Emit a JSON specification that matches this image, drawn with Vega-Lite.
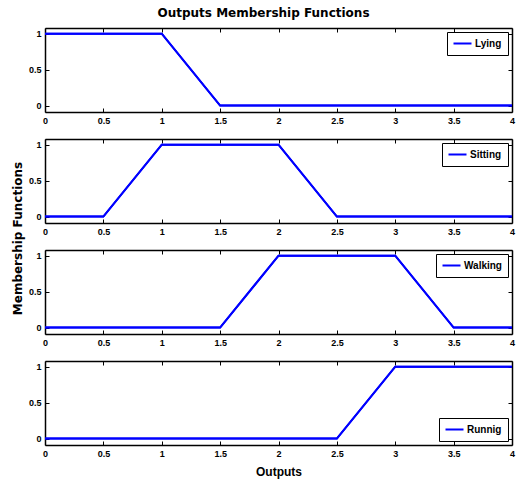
{
  "$schema": "https://vega.github.io/schema/vega-lite/v6.json",
  "padding": {"left": 11, "top": 6, "right": 2, "bottom": 5},
  "background": "white",
  "title": {"text": "Outputs Membership Functions", "font": "DejaVu Sans", "fontSize": 12, "fontWeight": "bold", "color": "black", "anchor": "middle", "offset": 8},
  "data": {"values": [
    {"name": "Lying", "x": 0, "y": 1},
    {"name": "Lying", "x": 1, "y": 1},
    {"name": "Lying", "x": 1.5, "y": 0},
    {"name": "Lying", "x": 4, "y": 0},
    {"name": "Sitting", "x": 0, "y": 0},
    {"name": "Sitting", "x": 0.5, "y": 0},
    {"name": "Sitting", "x": 1, "y": 1},
    {"name": "Sitting", "x": 2, "y": 1},
    {"name": "Sitting", "x": 2.5, "y": 0},
    {"name": "Sitting", "x": 4, "y": 0},
    {"name": "Walking", "x": 0, "y": 0},
    {"name": "Walking", "x": 1.5, "y": 0},
    {"name": "Walking", "x": 2, "y": 1},
    {"name": "Walking", "x": 3, "y": 1},
    {"name": "Walking", "x": 3.5, "y": 0},
    {"name": "Walking", "x": 4, "y": 0},
    {"name": "Runnig", "x": 0, "y": 0},
    {"name": "Runnig", "x": 2.5, "y": 0},
    {"name": "Runnig", "x": 3, "y": 1},
    {"name": "Runnig", "x": 4, "y": 1}
  ]},
  "spacing": 27,
  "bounds": "flush",
  "vconcat": [
    {
      "width": 467, "height": 84,
      "transform": [{"filter": "datum.name === 'Lying'"}],
      "layer": [
        {"mark": {"type": "line", "strokeWidth": 2},
         "encoding": {
           "x": {"field": "x", "type": "quantitative", "scale": {"domain": [0, 4], "nice": false}, "axis": {"orient": "bottom", "values": [0, 0.5, 1, 1.5, 2, 2.5, 3, 3.5, 4], "title": null}},
           "y": {"field": "y", "type": "quantitative", "scale": {"domain": [-0.09, 1.08], "nice": false}, "axis": {"orient": "left", "values": [0, 0.5, 1], "title": null}},
           "color": {"field": "name", "type": "nominal", "scale": {"range": ["#0000ff"]}, "legend": {"orient": "top-right"}}
         }},
        {"mark": {"type": "line", "strokeWidth": 2, "color": "#0000ff"},
         "encoding": {
           "x": {"field": "x", "type": "quantitative", "scale": {"domain": [0, 4], "nice": false}, "axis": {"orient": "top", "values": [0, 0.5, 1, 1.5, 2, 2.5, 3, 3.5, 4], "labels": false, "title": null}},
           "y": {"field": "y", "type": "quantitative", "scale": {"domain": [-0.09, 1.08], "nice": false}, "axis": {"orient": "right", "values": [0, 0.5, 1], "labels": false, "title": null}}
         }}
      ],
      "resolve": {"axis": {"x": "independent", "y": "independent"}}
    },
    {
      "width": 467, "height": 84,
      "transform": [{"filter": "datum.name === 'Sitting'"}],
      "layer": [
        {"mark": {"type": "line", "strokeWidth": 2},
         "encoding": {
           "x": {"field": "x", "type": "quantitative", "scale": {"domain": [0, 4], "nice": false}, "axis": {"orient": "bottom", "values": [0, 0.5, 1, 1.5, 2, 2.5, 3, 3.5, 4], "title": null}},
           "y": {"field": "y", "type": "quantitative", "scale": {"domain": [-0.09, 1.08], "nice": false}, "axis": {"orient": "left", "values": [0, 0.5, 1], "title": "Membership Functions", "titleFont": "DejaVu Sans", "titleX": -24, "titleY": 99, "titleAngle": -90, "titleAlign": "center", "titleBaseline": "alphabetic"}},
           "color": {"field": "name", "type": "nominal", "scale": {"range": ["#0000ff"]}, "legend": {"orient": "top-right"}}
         }},
        {"mark": {"type": "line", "strokeWidth": 2, "color": "#0000ff"},
         "encoding": {
           "x": {"field": "x", "type": "quantitative", "scale": {"domain": [0, 4], "nice": false}, "axis": {"orient": "top", "values": [0, 0.5, 1, 1.5, 2, 2.5, 3, 3.5, 4], "labels": false, "title": null}},
           "y": {"field": "y", "type": "quantitative", "scale": {"domain": [-0.09, 1.08], "nice": false}, "axis": {"orient": "right", "values": [0, 0.5, 1], "labels": false, "title": null}}
         }}
      ],
      "resolve": {"axis": {"x": "independent", "y": "independent"}}
    },
    {
      "width": 467, "height": 84,
      "transform": [{"filter": "datum.name === 'Walking'"}],
      "layer": [
        {"mark": {"type": "line", "strokeWidth": 2},
         "encoding": {
           "x": {"field": "x", "type": "quantitative", "scale": {"domain": [0, 4], "nice": false}, "axis": {"orient": "bottom", "values": [0, 0.5, 1, 1.5, 2, 2.5, 3, 3.5, 4], "title": null}},
           "y": {"field": "y", "type": "quantitative", "scale": {"domain": [-0.09, 1.08], "nice": false}, "axis": {"orient": "left", "values": [0, 0.5, 1], "title": null}},
           "color": {"field": "name", "type": "nominal", "scale": {"range": ["#0000ff"]}, "legend": {"orient": "top-right"}}
         }},
        {"mark": {"type": "line", "strokeWidth": 2, "color": "#0000ff"},
         "encoding": {
           "x": {"field": "x", "type": "quantitative", "scale": {"domain": [0, 4], "nice": false}, "axis": {"orient": "top", "values": [0, 0.5, 1, 1.5, 2, 2.5, 3, 3.5, 4], "labels": false, "title": null}},
           "y": {"field": "y", "type": "quantitative", "scale": {"domain": [-0.09, 1.08], "nice": false}, "axis": {"orient": "right", "values": [0, 0.5, 1], "labels": false, "title": null}}
         }}
      ],
      "resolve": {"axis": {"x": "independent", "y": "independent"}}
    },
    {
      "width": 467, "height": 84,
      "transform": [{"filter": "datum.name === 'Runnig'"}],
      "layer": [
        {"mark": {"type": "line", "strokeWidth": 2},
         "encoding": {
           "x": {"field": "x", "type": "quantitative", "scale": {"domain": [0, 4], "nice": false}, "axis": {"orient": "bottom", "values": [0, 0.5, 1, 1.5, 2, 2.5, 3, 3.5, 4], "title": "Outputs", "titlePadding": 8}},
           "y": {"field": "y", "type": "quantitative", "scale": {"domain": [-0.09, 1.08], "nice": false}, "axis": {"orient": "left", "values": [0, 0.5, 1], "title": null}},
           "color": {"field": "name", "type": "nominal", "scale": {"range": ["#0000ff"]}, "legend": {"orient": "bottom-right"}}
         }},
        {"mark": {"type": "line", "strokeWidth": 2, "color": "#0000ff"},
         "encoding": {
           "x": {"field": "x", "type": "quantitative", "scale": {"domain": [0, 4], "nice": false}, "axis": {"orient": "top", "values": [0, 0.5, 1, 1.5, 2, 2.5, 3, 3.5, 4], "labels": false, "title": null}},
           "y": {"field": "y", "type": "quantitative", "scale": {"domain": [-0.09, 1.08], "nice": false}, "axis": {"orient": "right", "values": [0, 0.5, 1], "labels": false, "title": null}}
         }}
      ],
      "resolve": {"axis": {"x": "independent", "y": "independent"}}
    }
  ],
  "resolve": {"scale": {"color": "independent"}, "legend": {"color": "independent"}},
  "config": {
    "view": {"stroke": null},
    "axis": {
      "grid": false,
      "domainColor": "black", "domainWidth": 1.5,
      "tickColor": "black", "tickSize": -4, "tickWidth": 1,
      "labelFont": "Liberation Sans", "labelFontSize": 9, "labelFontWeight": "bold", "labelColor": "black",
      "labelPadding": 8, "labelFlush": false, "labelOverlap": false, "format": "~g",
      "titleFont": "Liberation Sans", "titleFontSize": 12, "titleFontWeight": "bold", "titleColor": "black"
    },
    "legend": {
      "title": null,
      "strokeColor": "black", "fillColor": "white",
      "padding": 6, "offset": 4,
      "symbolType": "M-2,0H2", "symbolSize": 81, "symbolStrokeWidth": 2, "symbolOffset": 4,
      "labelFont": "Liberation Sans", "labelFontSize": 10, "labelFontWeight": "bold", "labelColor": "black", "labelOffset": 7
    }
  }
}
